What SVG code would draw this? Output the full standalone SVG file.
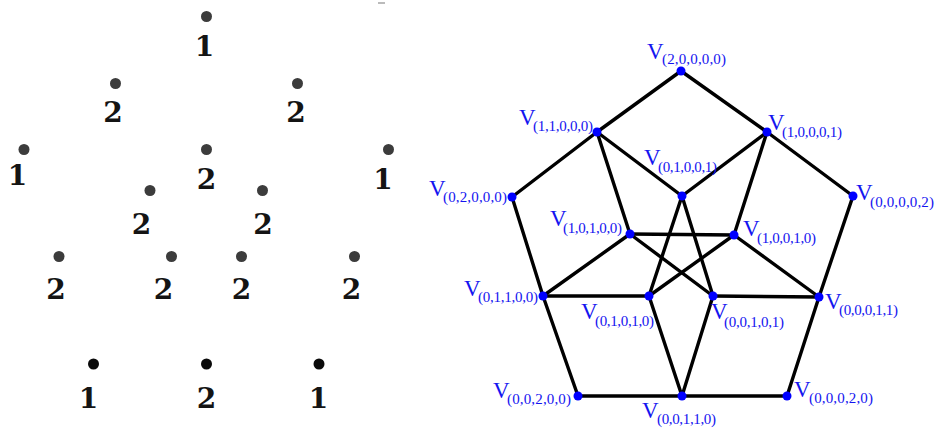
<svg xmlns="http://www.w3.org/2000/svg" width="937" height="432" viewBox="0 0 937 432">
<style>
.gd{fill:#3c3c3c}
.bd{fill:#0a0a0a}
.num{font-family:"DejaVu Serif","Liberation Serif",serif;font-weight:bold;font-size:28px;fill:#141414;text-anchor:middle}
.e{stroke:#000;stroke-width:3.4;stroke-linecap:round;fill:none}
.v{fill:#0000ff}
.lv{font-family:"Liberation Serif","Times New Roman",serif;font-size:23px;fill:#1414f0}
.ls{font-family:"Liberation Serif","Times New Roman",serif;font-size:15px;fill:#1414f0}
</style>
<rect width="937" height="432" fill="#fff"/>
<rect x="378" y="2" width="7" height="2" fill="#bbb"/>
<g id="left">
<circle class="gd" cx="206.5" cy="16.5" r="5.5"/><text class="num" x="204.5" y="56">1</text>
<circle class="gd" cx="115.5" cy="83.5" r="5.5"/><text class="num" x="113" y="122">2</text>
<circle class="gd" cx="297.5" cy="83.5" r="5.5"/><text class="num" x="296" y="122">2</text>
<circle class="gd" cx="24" cy="149.5" r="5.5"/><text class="num" x="17.5" y="185">1</text>
<circle class="gd" cx="206.5" cy="149.5" r="5.5"/><text class="num" x="206.5" y="189">2</text>
<circle class="gd" cx="388.5" cy="149.5" r="5.5"/><text class="num" x="383" y="189">1</text>
<circle class="gd" cx="150" cy="190.5" r="5.5"/><text class="num" x="141.5" y="234">2</text>
<circle class="gd" cx="262.5" cy="190.5" r="5.5"/><text class="num" x="263" y="234">2</text>
<circle class="gd" cx="59" cy="256.5" r="5.5"/><text class="num" x="56" y="299">2</text>
<circle class="gd" cx="171.5" cy="256.5" r="5.5"/><text class="num" x="163.5" y="299">2</text>
<circle class="gd" cx="241.5" cy="256.5" r="5.5"/><text class="num" x="241.5" y="299">2</text>
<circle class="gd" cx="354.5" cy="256.5" r="5.5"/><text class="num" x="351.5" y="299">2</text>
<circle class="bd" cx="93.5" cy="364" r="5.5"/><text class="num" x="88.5" y="408">1</text>
<circle class="bd" cx="206.5" cy="364" r="5.5"/><text class="num" x="206.5" y="408">2</text>
<circle class="bd" cx="319" cy="364" r="5.5"/><text class="num" x="318.5" y="408">1</text>
</g>
<g id="connectors">
<line class="e" x1="681" y1="71" x2="597" y2="132"/>
<line class="e" x1="597" y1="132" x2="512" y2="197"/>
<line class="e" x1="512" y1="197" x2="543" y2="296"/>
<line class="e" x1="543" y1="296" x2="578" y2="396"/>
<line class="e" x1="578" y1="396" x2="682" y2="396"/>
<line class="e" x1="682" y1="396" x2="787" y2="396"/>
<line class="e" x1="787" y1="396" x2="819" y2="297"/>
<line class="e" x1="819" y1="297" x2="853" y2="196"/>
<line class="e" x1="853" y1="196" x2="767" y2="132"/>
<line class="e" x1="767" y1="132" x2="681" y2="71"/>
<line class="e" x1="597" y1="132" x2="682" y2="196"/>
<line class="e" x1="597" y1="132" x2="630" y2="234"/>
<line class="e" x1="767" y1="132" x2="682" y2="196"/>
<line class="e" x1="767" y1="132" x2="734" y2="235"/>
<line class="e" x1="682" y1="196" x2="649" y2="296"/>
<line class="e" x1="682" y1="196" x2="713" y2="296"/>
<line class="e" x1="630" y1="234" x2="734" y2="235"/>
<line class="e" x1="630" y1="234" x2="543" y2="296"/>
<line class="e" x1="630" y1="234" x2="713" y2="296"/>
<line class="e" x1="734" y1="235" x2="649" y2="296"/>
<line class="e" x1="734" y1="235" x2="819" y2="297"/>
<line class="e" x1="543" y1="296" x2="649" y2="296"/>
<line class="e" x1="713" y1="296" x2="819" y2="297"/>
<line class="e" x1="649" y1="296" x2="682" y2="396"/>
<line class="e" x1="713" y1="296" x2="682" y2="396"/>
</g>
<g id="v20000"><circle class="v" cx="681" cy="71" r="4.5"/><text class="lv" x="647" y="59">V</text><text class="ls" x="662" y="64" textLength="64">(2,0,0,0,0)</text></g>
<g id="v11000"><circle class="v" cx="597" cy="132" r="4.5"/><text class="lv" x="519" y="125">V</text><text class="ls" x="533" y="131" textLength="60">(1,1,0,0,0)</text></g>
<g id="v10001"><circle class="v" cx="767" cy="132" r="4.5"/><text class="lv" x="768" y="130">V</text><text class="ls" x="782" y="137" textLength="60">(1,0,0,0,1)</text></g>
<g id="v01001"><circle class="v" cx="682" cy="196" r="4.5"/><text class="lv" x="644" y="165">V</text><text class="ls" x="658" y="172" textLength="59">(0,1,0,0,1)</text></g>
<g id="v02000"><circle class="v" cx="512" cy="197" r="4.5"/><text class="lv" x="429" y="196">V</text><text class="ls" x="443" y="202" textLength="64">(0,2,0,0,0)</text></g>
<g id="v00002"><circle class="v" cx="853" cy="196" r="4.5"/><text class="lv" x="856" y="200">V</text><text class="ls" x="870" y="207" textLength="64">(0,0,0,0,2)</text></g>
<g id="v10100"><circle class="v" cx="630" cy="234" r="4.5"/><text class="lv" x="550" y="226">V</text><text class="ls" x="563" y="233" textLength="59">(1,0,1,0,0)</text></g>
<g id="v10010"><circle class="v" cx="734" cy="235" r="4.5"/><text class="lv" x="743" y="236">V</text><text class="ls" x="757" y="243" textLength="59">(1,0,0,1,0)</text></g>
<g id="v01100"><circle class="v" cx="543" cy="296" r="4.5"/><text class="lv" x="464" y="296">V</text><text class="ls" x="478" y="302" textLength="60">(0,1,1,0,0)</text></g>
<g id="v01010"><circle class="v" cx="649" cy="296" r="4.5"/><text class="lv" x="581" y="319">V</text><text class="ls" x="595" y="326" textLength="59">(0,1,0,1,0)</text></g>
<g id="v00101"><circle class="v" cx="713" cy="296" r="4.5"/><text class="lv" x="711" y="319">V</text><text class="ls" x="724" y="327" textLength="60">(0,0,1,0,1)</text></g>
<g id="v00011"><circle class="v" cx="819" cy="297" r="4.5"/><text class="lv" x="825" y="309">V</text><text class="ls" x="839" y="315" textLength="59">(0,0,0,1,1)</text></g>
<g id="v00200"><circle class="v" cx="578" cy="396" r="4.5"/><text class="lv" x="493" y="398">V</text><text class="ls" x="507" y="404" textLength="64">(0,0,2,0,0)</text></g>
<g id="v00110"><circle class="v" cx="682" cy="396" r="4.5"/><text class="lv" x="642" y="418">V</text><text class="ls" x="657" y="424" textLength="59">(0,0,1,1,0)</text></g>
<g id="v00020"><circle class="v" cx="787" cy="396" r="4.5"/><text class="lv" x="794" y="397">V</text><text class="ls" x="809" y="403" textLength="64">(0,0,0,2,0)</text></g>
</svg>
